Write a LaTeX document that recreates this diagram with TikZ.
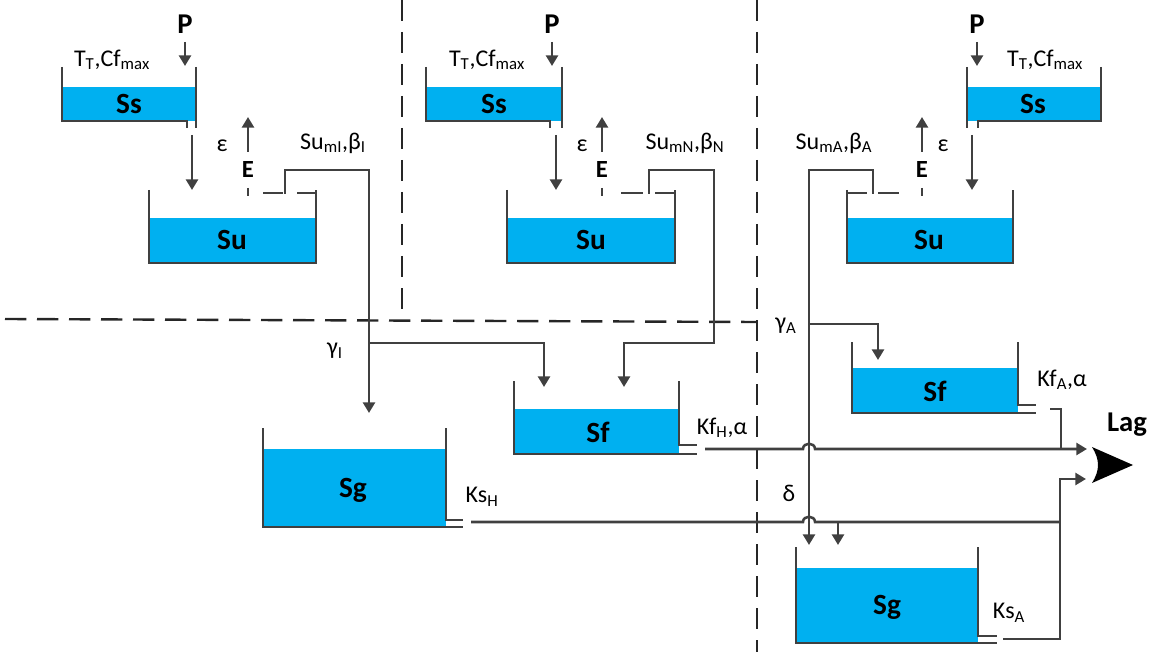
\documentclass[tikz,border=0pt]{standalone}
\usepackage{fontspec}
\setmainfont{Carlito}
\usetikzlibrary{arrows.meta}
\definecolor{water}{HTML}{00B0F0}
\definecolor{ln}{HTML}{404040}
\newcommand\sbs[1]{\textsubscript{#1}}
\begin{document}
\begin{tikzpicture}[x=0.75pt,y=-0.75pt,
  wall/.style={draw=ln,line width=2.2pt},
  pipe/.style={draw=ln,line width=1.9pt},
  flow/.style={draw=ln,line width=1.9pt,-{Triangle[length=8pt,width=9pt]}},
  bound/.style={draw=black!85,line width=1.8pt,dash pattern=on 16pt off 8pt},
  ovf/.style={draw=ln,line width=1.9pt},
  tlab/.style={font=\fontsize{22}{24}\selectfont\bfseries,text=black,inner sep=0pt},
  lab/.style={font=\fontsize{18}{20}\selectfont,text=black,inner sep=0pt},
  blab/.style={font=\fontsize{21.5}{24}\selectfont\bfseries,text=black,inner sep=0pt},
  elab/.style={font=\fontsize{18.5}{20}\selectfont\bfseries,text=black,inner sep=0pt}]
\useasboundingbox (0,0) rectangle (1152,652);

% ---------- boundaries ----------
\draw[bound] (5,319) -- (757,322);
\draw[bound] (402,0) -- (402,319);
\draw[bound] (757,0) -- (757,652);

% ================= LEFT COLUMN =================
\fill[water] (62,87) rectangle (196,121);
\draw[wall] (62,67) -- (62,121) -- (187,121) -- (187,128);
\draw[wall] (196,67) -- (196,128);
\node[tlab] (ss1) at (129,104) {Ss};
\node[blab] (p1) at (185,24) {P};
\coordinate (p1e) at (185,66);
\draw[flow] (185,42) -- (p1e);
\node[lab] (tt1) at (112,60) {T\sbs{T},Cf\sbs{max}};
\coordinate (m1a) at (192,135); \coordinate (m1b) at (192,190);
\draw[flow] (m1a) -- (m1b);
\node[lab] (eps1) at (222,146) {ε};
\node[elab] (e1) at (248,170) {E};
\coordinate (e1a) at (248,152); \coordinate (e1b) at (248,117);
\draw[flow] (e1a) -- (e1b);
\draw[ovf] (248,188) -- (248,196);
\fill[water] (149,218) rectangle (316,263);
\draw[wall] (149,190) -- (149,263) -- (316,263) -- (316,190);
\node[tlab] (su1) at (232,240) {Su};
\draw[ovf] (263,193) -- (283,193);
\draw[ovf] (297,193) -- (316,193);
\node[lab] (sum1) at (333,143) {Su\sbs{mI},β\sbs{I}};
\coordinate (sg1in) at (369,413);
\coordinate (b1) at (369,343);
\coordinate (sf1in) at (544,387);
\draw[flow] (285,194) -- (285,170) -- (369,170) -- (sg1in);
\draw[flow] (b1) -- (544,343) -- (sf1in);
\node[lab] (g1) at (335,351) {γ\sbs{I}};

% ================= MIDDLE COLUMN =================
\fill[water] (426,87) rectangle (562,121);
\draw[wall] (426,67) -- (426,121) -- (550,121) -- (550,128);
\draw[wall] (562,67) -- (562,128);
\node[tlab] (ss2) at (494,104) {Ss};
\node[blab] (p2) at (552,24) {P};
\coordinate (p2e) at (552,66);
\draw[flow] (552,42) -- (p2e);
\node[lab] (tt2) at (487,60) {T\sbs{T},Cf\sbs{max}};
\coordinate (m2a) at (556,135); \coordinate (m2b) at (556,190);
\draw[flow] (m2a) -- (m2b);
\node[lab] (eps2) at (582,146) {ε};
\node[elab] (e2) at (602,170) {E};
\coordinate (e2a) at (602,152); \coordinate (e2b) at (602,117);
\draw[flow] (e2a) -- (e2b);
\draw[ovf] (602,188) -- (602,196);
\fill[water] (507,218) rectangle (675,263);
\draw[wall] (507,190) -- (507,263) -- (675,263) -- (675,190);
\node[tlab] (su2) at (591,240) {Su};
\draw[ovf] (621,193) -- (643,193);
\draw[ovf] (655,193) -- (675,193);
\node[lab] (sum2) at (685,143) {Su\sbs{mN},β\sbs{N}};
\coordinate (sf1in2) at (624,387);
\draw[flow] (649,194) -- (649,170) -- (714,170) -- (714,343) -- (624,343) -- (sf1in2);

% ================= RIGHT COLUMN =================
\fill[water] (967,87) rectangle (1101,121);
\draw[wall] (967,67) -- (967,128);
\draw[wall] (1101,67) -- (1101,121) -- (978,121) -- (978,128);
\node[tlab] (ss3) at (1033,104) {Ss};
\node[blab] (p3) at (977,24) {P};
\coordinate (p3e) at (977,66);
\draw[flow] (977,42) -- (p3e);
\node[lab] (tt3) at (1045,60) {T\sbs{T},Cf\sbs{max}};
\coordinate (m3a) at (972,135); \coordinate (m3b) at (972,190);
\draw[flow] (m3a) -- (m3b);
\node[lab] (eps3) at (943,146) {ε};
\node[elab] (e3) at (922,170) {E};
\coordinate (e3a) at (922,152); \coordinate (e3b) at (922,117);
\draw[flow] (e3a) -- (e3b);
\draw[ovf] (922,188) -- (922,196);
\fill[water] (847,218) rectangle (1013,263);
\draw[wall] (847,190) -- (847,263) -- (1013,263) -- (1013,190);
\node[tlab] (su3) at (929,240) {Su};
\draw[ovf] (847,193) -- (867,193);
\draw[ovf] (878,193) -- (899,193);
\node[lab] (sum3) at (834,143) {Su\sbs{mA},β\sbs{A}};
\coordinate (sg2in) at (809,545);
\draw[flow] (873,194) -- (873,170) -- (809,170) -- (sg2in);
\coordinate (b3) at (809,324);
\coordinate (sf2in) at (878,360);
\draw[flow] (b3) -- (878,324) -- (sf2in);
\node[lab] (g3) at (786,326) {γ\sbs{A}};

% ---------- Sf right ----------
\fill[water] (852,368) rectangle (1018,413);
\draw[wall] (852,342) -- (852,413) -- (1036,413);
\draw[wall] (1018,342) -- (1018,405) -- (1036,405);
\node[tlab] (sf2) at (935,391) {Sf};
\node[lab] (kfa) at (1062,380) {Kf\sbs{A},α};

% ---------- Sf middle ----------
\fill[water] (514,409) rectangle (679,454);
\draw[wall] (514,381) -- (514,454) -- (697,454);
\draw[wall] (679,381) -- (679,445) -- (697,445);
\node[tlab] (sf1) at (598,432) {Sf};
\node[lab] (kfh) at (722,428) {Kf\sbs{H},α};

% ---------- Sg left ----------
\fill[water] (263,449) rectangle (446,527);
\draw[wall] (263,428) -- (263,527) -- (463,527);
\draw[wall] (446,428) -- (446,520) -- (463,520);
\node[tlab] (sg1) at (353,490) {Sg};
\node[lab] (ksh) at (482,497) {Ks\sbs{H}};

% ---------- Sg right ----------
\fill[water] (796,568) rectangle (978,643);
\draw[wall] (796,547) -- (796,643) -- (997,643);
\draw[wall] (978,547) -- (978,636) -- (997,636);
\node[tlab] (sg2) at (887,607) {Sg};
\node[lab] (ksa) at (1009,613) {Ks\sbs{A}};

% ---------- Lag ----------
\node[blab] (lag) at (1127,425) {Lag};
\fill[black] (1092,447) -- (1133,465) -- (1092,483) .. controls (1100,470) and (1100,460) .. (1092,447);
\coordinate (lag1) at (1087,449);
\coordinate (lag2) at (1086,479);

% ---------- outflows ----------
\draw[flow] (705,449) -- (803,449) .. controls (803,442) and (815,442) .. (815,449) -- (lag1);
\draw[pipe] (1050,409) -- (1061,409) -- (1061,449);
\draw[pipe] (471,522) -- (803,522) .. controls (803,515) and (815,515) .. (815,522) -- (1060,522);
\coordinate (d1) at (838,522); \coordinate (d2) at (838,545);
\draw[flow] (d1) -- (d2);
\node[lab] (delta) at (789,493) {δ};
\draw[flow] (1003,639) -- (1060,639) -- (1060,479) -- (lag2);
\end{tikzpicture}
\end{document}
